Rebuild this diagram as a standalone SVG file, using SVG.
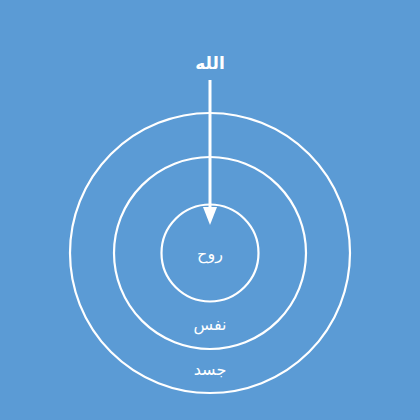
<svg xmlns="http://www.w3.org/2000/svg" width="420" height="420" viewBox="0 0 420 420">
<style>
.ring{fill:none;stroke:#FFFFFF;stroke-width:2.2}
.lbl{fill:#FFFFFF;font-family:"DejaVu Sans","Noto Sans",sans-serif;font-size:16px;text-anchor:middle;dominant-baseline:central}
</style>
<rect width="420" height="420" fill="#5B9BD5"/>
<g id="jasad"><circle class="ring" cx="210" cy="253" r="140"/><text class="lbl" x="210" y="369">جسد</text></g>
<g id="nafs"><circle class="ring" cx="210" cy="253" r="96"/><text class="lbl" x="210" y="324">نفس</text></g>
<g id="ruh"><circle class="ring" cx="210" cy="253" r="48.5"/><text class="lbl" x="210" y="253">روح</text></g>
<g id="allah"><text class="lbl" x="210" y="63" style="font-size:17px;font-weight:bold">الله</text></g>
<g id="connectors">
<line x1="210" y1="80" x2="210" y2="208" stroke="#FFFFFF" stroke-width="3"/>
<path d="M203,207 L217,207 L210,225 Z" fill="#FFFFFF"/>
</g>
</svg>
